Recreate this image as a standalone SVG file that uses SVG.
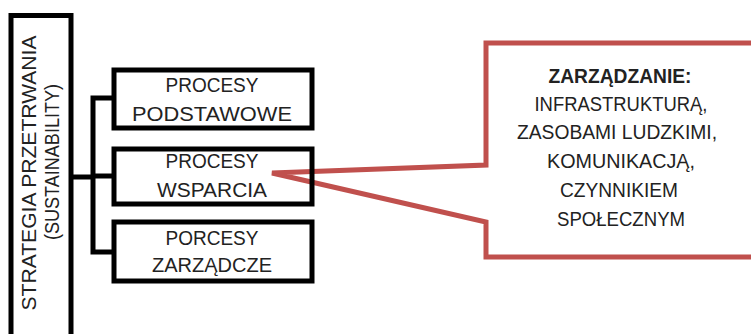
<svg xmlns="http://www.w3.org/2000/svg" width="751" height="334" viewBox="0 0 751 334">
  <style>
    .box { fill: none; stroke: #000; stroke-width: 5; }
    .wire { fill: none; stroke: #000; stroke-width: 5; stroke-linejoin: miter; }
    .callout { fill: #fff; stroke: #C0504D; stroke-width: 5; stroke-linejoin: miter; }
    text { font-family: "Liberation Sans", Arial, sans-serif; font-size: 20px; fill: #222; text-anchor: middle; }
    .bold { font-weight: bold; }
  </style>

  <rect x="0" y="0" width="751" height="334" fill="#fff"/>

  <!-- callout with its pointer -->
  <g id="callout">
    <path class="callout" d="M486,165 L486,43 L760,43 L760,257 L486,257 L486,222 L272,173 Z"/>
    <text class="bold" x="620" y="83" textLength="143" lengthAdjust="spacingAndGlyphs">ZARZĄDZANIE:</text>
    <text x="621" y="111" textLength="173" lengthAdjust="spacingAndGlyphs">INFRASTRUKTURĄ,</text>
    <text x="617" y="139" textLength="200" lengthAdjust="spacingAndGlyphs">ZASOBAMI LUDZKIMI,</text>
    <text x="621" y="168" textLength="148" lengthAdjust="spacingAndGlyphs">KOMUNIKACJĄ,</text>
    <text x="619" y="197" textLength="118" lengthAdjust="spacingAndGlyphs">CZYNNIKIEM</text>
    <text x="621" y="226" textLength="128" lengthAdjust="spacingAndGlyphs">SPOŁECZNYM</text>
  </g>

  <!-- connectors -->
  <g id="connectors">
    <path class="wire" d="M72,177 L93,177"/>
    <path class="wire" d="M114,98 L93,98 L93,252 L114,252"/>
    <path class="wire" d="M93,176 L114,176"/>
  </g>

  <!-- root node -->
  <g id="strategy">
    <rect class="box" x="11" y="15.5" width="60" height="340"/>
    <text x="0" y="0" transform="translate(36,173) rotate(-90)" textLength="275" lengthAdjust="spacingAndGlyphs">STRATEGIA PRZETRWANIA</text>
    <text x="0" y="0" transform="translate(59,162) rotate(-90)" textLength="156" lengthAdjust="spacingAndGlyphs">(SUSTAINABILITY)</text>
  </g>

  <g id="procesy-podstawowe">
    <rect class="box" x="114" y="70" width="198" height="58"/>
    <text x="212" y="92" textLength="93" lengthAdjust="spacingAndGlyphs">PROCESY</text>
    <text x="212" y="121" textLength="160" lengthAdjust="spacingAndGlyphs">PODSTAWOWE</text>
  </g>

  <g id="procesy-wsparcia">
    <rect class="box" x="114" y="149" width="198" height="55"/>
    <text x="212" y="168" textLength="93" lengthAdjust="spacingAndGlyphs">PROCESY</text>
    <text x="212" y="197" textLength="110" lengthAdjust="spacingAndGlyphs">WSPARCIA</text>
  </g>

  <g id="procesy-zarzadcze">
    <rect class="box" x="114" y="222" width="198" height="59"/>
    <text x="212" y="245" textLength="93" lengthAdjust="spacingAndGlyphs">PORCESY</text>
    <text x="212" y="272" textLength="120" lengthAdjust="spacingAndGlyphs">ZARZĄDCZE</text>
  </g>
</svg>
